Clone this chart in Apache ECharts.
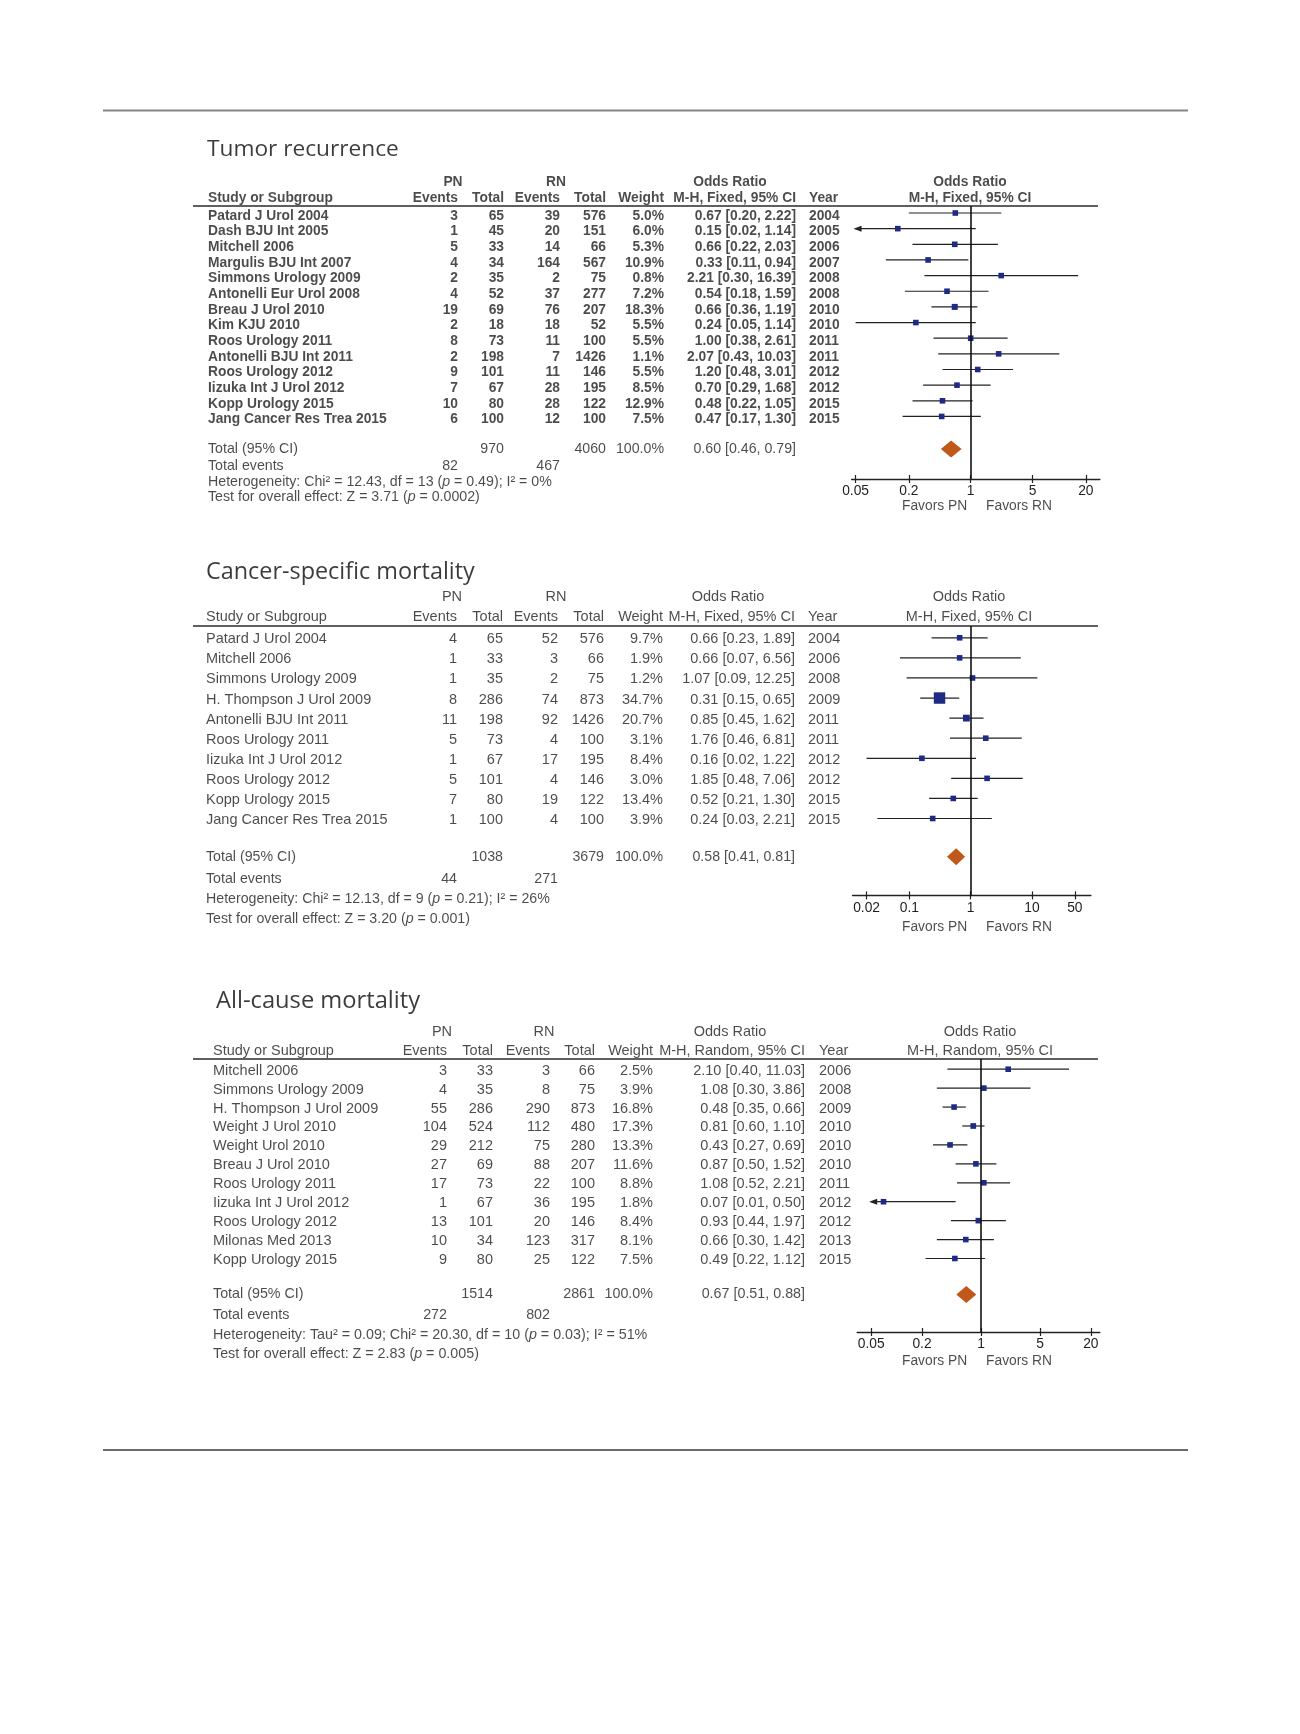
<!DOCTYPE html>
<html><head><meta charset="utf-8">
<script src="https://cdn.jsdelivr.net/npm/echarts@6/dist/echarts.min.js"></script>
<style>html,body{margin:0;padding:0;background:#fff}#c{width:1300px;height:1734px}</style>
</head><body><div id="c"></div><script>
// ================= DATA =================
// Panel 1 – Tumor recurrence
const p1Title = 'Tumor recurrence';
const p1Method = 'M-H, Fixed, 95% CI';
const p1Studies = ['Patard J Urol 2004','Dash BJU Int 2005','Mitchell 2006','Margulis BJU Int 2007','Simmons Urology 2009','Antonelli Eur Urol 2008','Breau J Urol 2010','Kim KJU 2010','Roos Urology 2011','Antonelli BJU Int 2011','Roos Urology 2012','Iizuka Int J Urol 2012','Kopp Urology 2015','Jang Cancer Res Trea 2015'];
const p1PnEvents = [3,1,5,4,2,4,19,2,8,2,9,7,10,6];
const p1PnTotal = [65,45,33,34,35,52,69,18,73,198,101,67,80,100];
const p1RnEvents = [39,20,14,164,2,37,76,18,11,7,11,28,28,12];
const p1RnTotal = [576,151,66,567,75,277,207,52,100,1426,146,195,122,100];
const p1Weight = [5.0,6.0,5.3,10.9,0.8,7.2,18.3,5.5,5.5,1.1,5.5,8.5,12.9,7.5];
const p1OR = [0.67,0.15,0.66,0.33,2.21,0.54,0.66,0.24,1.00,2.07,1.20,0.70,0.48,0.47];
const p1Lo = [0.20,0.02,0.22,0.11,0.30,0.18,0.36,0.05,0.38,0.43,0.48,0.29,0.22,0.17];
const p1Hi = [2.22,1.14,2.03,0.94,16.39,1.59,1.19,1.14,2.61,10.03,3.01,1.68,1.05,1.30];
const p1Year = [2004,2005,2006,2007,2008,2008,2010,2010,2011,2011,2012,2012,2015,2015];
const p1TotalN = [970, 4060];
const p1TotalEvents = [82, 467];
const p1Pooled = [0.60, 0.46, 0.79];
const p1Het = 'Heterogeneity: Chi² = 12.43, df = 13 ({i|p} = 0.49); I² = 0%';
const p1Test = 'Test for overall effect: Z = 3.71 ({i|p} = 0.0002)';
const p1Ticks = [0.05, 0.2, 1, 5, 20];

// Panel 2 – Cancer-specific mortality
const p2Title = 'Cancer-specific mortality';
const p2Method = 'M-H, Fixed, 95% CI';
const p2Studies = ['Patard J Urol 2004','Mitchell 2006','Simmons Urology 2009','H. Thompson J Urol 2009','Antonelli BJU Int 2011','Roos Urology 2011','Iizuka Int J Urol 2012','Roos Urology 2012','Kopp Urology 2015','Jang Cancer Res Trea 2015'];
const p2PnEvents = [4,1,1,8,11,5,1,5,7,1];
const p2PnTotal = [65,33,35,286,198,73,67,101,80,100];
const p2RnEvents = [52,3,2,74,92,4,17,4,19,4];
const p2RnTotal = [576,66,75,873,1426,100,195,146,122,100];
const p2Weight = [9.7,1.9,1.2,34.7,20.7,3.1,8.4,3.0,13.4,3.9];
const p2OR = [0.66,0.66,1.07,0.31,0.85,1.76,0.16,1.85,0.52,0.24];
const p2Lo = [0.23,0.07,0.09,0.15,0.45,0.46,0.02,0.48,0.21,0.03];
const p2Hi = [1.89,6.56,12.25,0.65,1.62,6.81,1.22,7.06,1.30,2.21];
const p2Year = [2004,2006,2008,2009,2011,2011,2012,2012,2015,2015];
const p2TotalN = [1038, 3679];
const p2TotalEvents = [44, 271];
const p2Pooled = [0.58, 0.41, 0.81];
const p2Het = 'Heterogeneity: Chi² = 12.13, df = 9 ({i|p} = 0.21); I² = 26%';
const p2Test = 'Test for overall effect: Z = 3.20 ({i|p} = 0.001)';
const p2Ticks = [0.02, 0.1, 1, 10, 50];

// Panel 3 – All-cause mortality
const p3Title = 'All-cause mortality';
const p3Method = 'M-H, Random, 95% CI';
const p3Studies = ['Mitchell 2006','Simmons Urology 2009','H. Thompson J Urol 2009','Weight J Urol 2010','Weight Urol 2010','Breau J Urol 2010','Roos Urology 2011','Iizuka Int J Urol 2012','Roos Urology 2012','Milonas Med 2013','Kopp Urology 2015'];
const p3PnEvents = [3,4,55,104,29,27,17,1,13,10,9];
const p3PnTotal = [33,35,286,524,212,69,73,67,101,34,80];
const p3RnEvents = [3,8,290,112,75,88,22,36,20,123,25];
const p3RnTotal = [66,75,873,480,280,207,100,195,146,317,122];
const p3Weight = [2.5,3.9,16.8,17.3,13.3,11.6,8.8,1.8,8.4,8.1,7.5];
const p3OR = [2.10,1.08,0.48,0.81,0.43,0.87,1.08,0.07,0.93,0.66,0.49];
const p3Lo = [0.40,0.30,0.35,0.60,0.27,0.50,0.52,0.01,0.44,0.30,0.22];
const p3Hi = [11.03,3.86,0.66,1.10,0.69,1.52,2.21,0.50,1.97,1.42,1.12];
const p3Year = [2006,2008,2009,2010,2010,2010,2011,2012,2012,2013,2015];
const p3TotalN = [1514, 2861];
const p3TotalEvents = [272, 802];
const p3Pooled = [0.67, 0.51, 0.88];
const p3Het = 'Heterogeneity: Tau² = 0.09; Chi² = 20.30, df = 10 ({i|p} = 0.03); I² = 51%';
const p3Test = 'Test for overall effect: Z = 2.83 ({i|p} = 0.005)';
const p3Ticks = [0.05, 0.2, 1, 5, 20];

const favorsLabels = ['Favors PN', 'Favors RN'];

// ================= LAYOUT / STYLE =================
const FONT = "'Liberation Sans', Arial, Helvetica, sans-serif";
const TFONT = "'Open Sans', Lato, sans-serif";
const TXT = '#1e1e1e';

const L1 = {
  firstRowY: 216, step: 15.65, titleX: 207, titleY: 150, titleSize: 22.7,
  hdr1Y: 182, hdr2Y: 198, ruleY: 206, totalY: 449, eventsY: 466.5, hetY: 482, testY: 497.5,
  axisY: 479, favorsY: 506, labelMargin: 5,
  col: {study:208, pnE:458, pnT:504, rnE:560, rnT:606, w:664, or:796, year:809},
  ctr: {pn:453, rn:556, or:730, forest:970},
  x1: 970.7, decade: 88.5, pad: [4, 14], markDy: -3,
  rowFont: {size: 13.8, weight: 'bold'}, footFont: {size: 14.2, weight: 'normal'}, tickFont: {size: 13.8, weight: 'normal'}
};
const L2 = {
  firstRowY: 639.3, step: 20.08, titleX: 206, titleY: 572.5, titleSize: 23.4,
  hdr1Y: 597, hdr2Y: 617, ruleY: 626, totalY: 856.7, eventsY: 878.8, hetY: 898.7, testY: 918.6,
  axisY: 895.4, favorsY: 927.4, labelMargin: 6,
  col: {study:206, pnE:457, pnT:503, rnE:558, rnT:604, w:663, or:795, year:808},
  ctr: {pn:452, rn:556, or:728, forest:969},
  x1: 970.7, decade: 61.3, pad: [14, 16], markDy: -1.5,
  rowFont: {size: 14.5, weight: 'normal'}, footFont: {size: 14.2, weight: 'normal'}, tickFont: {size: 13.8, weight: 'normal'}
};
const L3 = {
  firstRowY: 1070.7, step: 18.93, titleX: 216, titleY: 1001.5, titleSize: 23.7,
  hdr1Y: 1032, hdr2Y: 1051, ruleY: 1059, totalY: 1294.4, eventsY: 1315.4, hetY: 1335.3, testY: 1354.1,
  axisY: 1332, favorsY: 1360.7, labelMargin: 5,
  col: {study:213, pnE:447, pnT:493, rnE:550, rnT:595, w:653, or:805, year:819},
  ctr: {pn:442, rn:544, or:730, forest:980},
  x1: 981, decade: 84.4, pad: [14, 9], markDy: -1.5,
  rowFont: {size: 14.5, weight: 'normal'}, footFont: {size: 14.3, weight: 'normal'}, tickFont: {size: 13.8, weight: 'normal'}
};
const RULE_X = [193, 1098];
const FAV_X = [934.6, 1019];

const panels = [
  {L: L1, title: p1Title, method: p1Method, studies: p1Studies, pnE: p1PnEvents, pnT: p1PnTotal, rnE: p1RnEvents, rnT: p1RnTotal, w: p1Weight, or: p1OR, lo: p1Lo, hi: p1Hi, year: p1Year, totN: p1TotalN, totE: p1TotalEvents, pooled: p1Pooled, het: p1Het, test: p1Test, ticks: p1Ticks},
  {L: L2, title: p2Title, method: p2Method, studies: p2Studies, pnE: p2PnEvents, pnT: p2PnTotal, rnE: p2RnEvents, rnT: p2RnTotal, w: p2Weight, or: p2OR, lo: p2Lo, hi: p2Hi, year: p2Year, totN: p2TotalN, totE: p2TotalEvents, pooled: p2Pooled, het: p2Het, test: p2Test, ticks: p2Ticks},
  {L: L3, title: p3Title, method: p3Method, studies: p3Studies, pnE: p3PnEvents, pnT: p3PnTotal, rnE: p3RnEvents, rnT: p3RnTotal, w: p3Weight, or: p3OR, lo: p3Lo, hi: p3Hi, year: p3Year, totN: p3TotalN, totE: p3TotalEvents, pooled: p3Pooled, het: p3Het, test: p3Test, ticks: p3Ticks}
];

function orText(o, l, h) { return o.toFixed(2) + ' [' + l.toFixed(2) + ', ' + h.toFixed(2) + ']'; }

const grids = [], xAxes = [], yAxes = [], series = [];

panels.forEach(function (P, p) {
  const L = P.L;
  const n = P.studies.length;
  const rowOf = function (py) { return (py - L.firstRowY) / L.step; };
  const tMin = P.ticks[0], tMax = P.ticks[P.ticks.length - 1];
  const axMin = tMin * Math.pow(10, -L.pad[0] / L.decade);
  const axMax = tMax * Math.pow(10, L.pad[1] / L.decade);

  const tYmin = -6, tYmax = n + 9;
  grids.push({left: 0, width: 1300, top: L.firstRowY + tYmin * L.step, height: (tYmax - tYmin) * L.step, containLabel: false, outerBoundsMode: 'none'});
  const gLeft = L.x1 + L.decade * Math.log10(axMin);
  const gWidth = L.decade * (Math.log10(axMax) - Math.log10(axMin));
  const gHeight = L.axisY - L.ruleY;
  grids.push({left: gLeft, width: gWidth, top: L.ruleY, height: gHeight, containLabel: false, outerBoundsMode: 'none'});

  const gT = 2 * p, gF = 2 * p + 1;
  const xT = xAxes.length;
  xAxes.push({type: 'value', gridIndex: gT, min: 0, max: 1300, show: false});
  const xF = xAxes.length;
  const tickFmt = function (v) { return String(+(+v).toPrecision(4)); };
  xAxes.push({type: 'log', logBase: 10, gridIndex: gF, min: axMin, max: axMax, position: 'bottom',
    axisLine: {show: true, onZero: false, lineStyle: {color: '#222', width: 1.4}},
    axisTick: {show: true, length: 4, customValues: P.ticks, lineStyle: {color: '#222', width: 1.2}},
    axisLabel: {show: true, customValues: P.ticks, formatter: tickFmt, margin: L.labelMargin, color: TXT, fontFamily: FONT, fontSize: L.tickFont.size, fontWeight: L.tickFont.weight},
    splitLine: {show: false}, minorTick: {show: false}});
  xAxes.push({type: 'log', logBase: 10, gridIndex: gF, min: axMin, max: axMax, position: 'top', offset: -gHeight,
    axisLine: {show: false}, axisLabel: {show: false}, splitLine: {show: false},
    axisTick: {show: true, inside: false, length: 4, customValues: P.ticks, lineStyle: {color: '#222', width: 1.2}}});

  const yT = yAxes.length;
  yAxes.push({type: 'value', gridIndex: gT, min: tYmin, max: tYmax, inverse: true, show: false});
  const yF = yAxes.length;
  yAxes.push({type: 'value', gridIndex: gF, min: rowOf(L.ruleY), max: rowOf(L.axisY), inverse: true, show: false});

  const items = [];
  const T = function (x, py, text, align, font, family, extra) {
    items.push({value: [x, py], t: text, label: Object.assign({
      align: align, verticalAlign: 'middle', fontSize: font.size, fontWeight: font.weight,
      fontFamily: family || FONT, color: TXT,
      rich: {i: {fontStyle: 'italic', fontSize: font.size, fontWeight: font.weight, fontFamily: family || FONT, color: TXT}}
    }, extra || {})});
  };
  const hf = L.rowFont, ff = L.footFont;
  T(L.titleX, rowOf(L.titleY), P.title, 'left', {size: L.titleSize, weight: 'normal'}, TFONT, {color: '#0a0a0a'});
  const h1 = rowOf(L.hdr1Y), h2 = rowOf(L.hdr2Y);
  T(L.ctr.pn, h1, 'PN', 'center', hf);
  T(L.ctr.rn, h1, 'RN', 'center', hf);
  T(L.ctr.or, h1, 'Odds Ratio', 'center', hf);
  T(L.ctr.forest, h1, 'Odds Ratio', 'center', hf);
  T(L.col.study, h2, 'Study or Subgroup', 'left', hf);
  T(L.col.pnE, h2, 'Events', 'right', hf);
  T(L.col.pnT, h2, 'Total', 'right', hf);
  T(L.col.rnE, h2, 'Events', 'right', hf);
  T(L.col.rnT, h2, 'Total', 'right', hf);
  T(L.col.w, h2, 'Weight', 'right', hf);
  T(L.col.or, h2, P.method, 'right', hf);
  T(L.col.year, h2, 'Year', 'left', hf);
  T(L.ctr.forest, h2, P.method, 'center', hf);
  for (let i = 0; i < n; i++) {
    T(L.col.study, i, P.studies[i], 'left', hf);
    T(L.col.pnE, i, String(P.pnE[i]), 'right', hf);
    T(L.col.pnT, i, String(P.pnT[i]), 'right', hf);
    T(L.col.rnE, i, String(P.rnE[i]), 'right', hf);
    T(L.col.rnT, i, String(P.rnT[i]), 'right', hf);
    T(L.col.w, i, P.w[i].toFixed(1) + '%', 'right', hf);
    T(L.col.or, i, orText(P.or[i], P.lo[i], P.hi[i]), 'right', hf);
    T(L.col.year, i, String(P.year[i]), 'left', hf);
  }
  const rt = rowOf(L.totalY), re = rowOf(L.eventsY);
  T(L.col.study, rt, 'Total (95% CI)', 'left', ff);
  T(L.col.pnT, rt, String(P.totN[0]), 'right', ff);
  T(L.col.rnT, rt, String(P.totN[1]), 'right', ff);
  T(L.col.w, rt, '100.0%', 'right', ff);
  T(L.col.or, rt, orText(P.pooled[0], P.pooled[1], P.pooled[2]), 'right', ff);
  T(L.col.study, re, 'Total events', 'left', ff);
  T(L.col.pnE, re, String(P.totE[0]), 'right', ff);
  T(L.col.rnE, re, String(P.totE[1]), 'right', ff);
  T(L.col.study, rowOf(L.hetY), P.het, 'left', ff);
  T(L.col.study, rowOf(L.testY), P.test, 'left', ff);
  T(FAV_X[0], rowOf(L.favorsY), favorsLabels[0], 'center', L.tickFont);
  T(FAV_X[1], rowOf(L.favorsY), favorsLabels[1], 'center', L.tickFont);

  series.push({
    type: 'scatter', xAxisIndex: xT, yAxisIndex: yT, data: items, symbolSize: 1, silent: true,
    itemStyle: {color: 'rgba(0,0,0,0)'}, clip: false,
    label: {show: true, position: 'inside', formatter: function (pp) { return pp.data.t; }},
    markLine: {silent: true, symbol: ['none', 'none'], label: {show: false},
      lineStyle: {color: '#2a2a2a', width: 1.6, type: 'solid'},
      data: [[{coord: [RULE_X[0], rowOf(L.ruleY)]}, {coord: [RULE_X[1], rowOf(L.ruleY)]}]]}
  });

  const studyData = [];
  for (let i = 0; i < n; i++) studyData.push([P.or[i], i, P.lo[i], P.hi[i], P.w[i]]);
  series.push({
    type: 'custom', coordinateSystem: 'cartesian2d', xAxisIndex: xF, yAxisIndex: yF, silent: true, clip: false,
    data: studyData,
    renderItem: function (params, api) {
      const o = api.value(0), r = api.value(1), lo = api.value(2), hi = api.value(3), w = api.value(4);
      const a = api.coord([Math.max(lo, tMin), r]);
      const b = api.coord([Math.min(hi, tMax), r]);
      const c = api.coord([o, r]);
      const y = a[1] + L.markDy;
      const s = 5.6 + Math.max(0, w - 17) * 0.33;
      const ch = [{type: 'line', shape: {x1: a[0], y1: y, x2: b[0], y2: y}, style: {stroke: '#222', lineWidth: 1.2}}];
      if (lo < tMin) ch.push({type: 'polygon', shape: {points: [[a[0] - 2, y], [a[0] + 6, y - 3], [a[0] + 6, y + 3]]}, style: {fill: '#222'}});
      if (hi > tMax) ch.push({type: 'polygon', shape: {points: [[b[0] + 2, y], [b[0] - 6, y - 3], [b[0] - 6, y + 3]]}, style: {fill: '#222'}});
      ch.push({type: 'rect', shape: {x: c[0] - s / 2, y: y - s / 2, width: s, height: s}, style: {fill: '#1f2a84'}});
      return {type: 'group', children: ch};
    },
    markLine: {silent: true, symbol: ['none', 'none'], label: {show: false},
      lineStyle: {color: '#111', width: 1.6, type: 'solid'}, data: [{xAxis: 1}]},
    z: 3
  });

  series.push({
    type: 'custom', coordinateSystem: 'cartesian2d', xAxisIndex: xF, yAxisIndex: yF, silent: true, clip: false,
    data: [[P.pooled[0], rt, P.pooled[1], P.pooled[2]]],
    renderItem: function (params, api) {
      const c = api.coord([api.value(0), api.value(1)]);
      const l = api.coord([api.value(2), api.value(1)]);
      const h = api.coord([api.value(3), api.value(1)]);
      const y = c[1], hh = 8.5;
      return {type: 'polygon', shape: {points: [[l[0], y], [c[0], y - hh], [h[0], y], [c[0], y + hh]]}, style: {fill: '#c0581c'}};
    },
    z: 4
  });
});

const chart = echarts.init(document.getElementById('c'), null, {renderer: 'canvas'});
chart.setOption({
  animation: false,
  backgroundColor: '#ffffff',
  grid: grids, xAxis: xAxes, yAxis: yAxes, series: series,
  graphic: [
    {type: 'line', shape: {x1: 103, y1: 110.5, x2: 1188, y2: 110.5}, style: {stroke: '#858585', lineWidth: 2}, silent: true},
    {type: 'line', shape: {x1: 103, y1: 1450, x2: 1188, y2: 1450}, style: {stroke: '#6a6a6a', lineWidth: 2}, silent: true}
  ]
});
</script></body></html>
